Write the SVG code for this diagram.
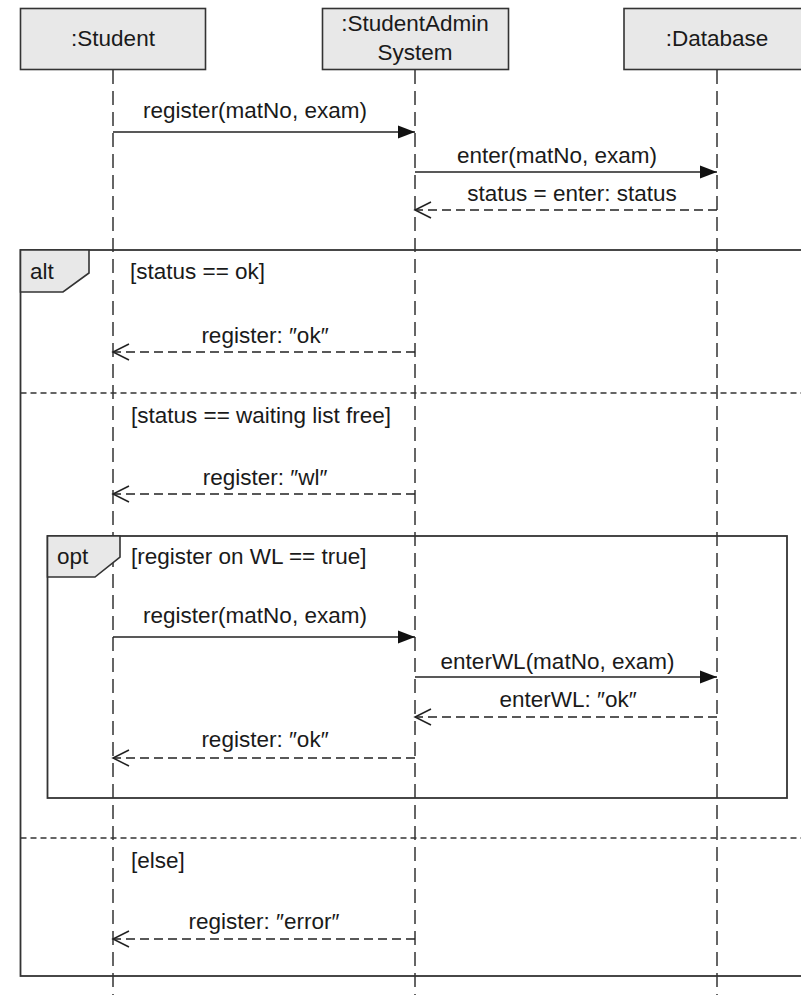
<svg xmlns="http://www.w3.org/2000/svg" width="801" height="995" viewBox="0 0 801 995">
<defs>
<style>
text{font-family:"Liberation Sans",Arial,sans-serif;font-size:22.5px;fill:#1a1a1a}
.mid{text-anchor:middle}
.box{fill:#e8e8e8;stroke:#333;stroke-width:1.6}
.frame{fill:none;stroke:#333;stroke-width:1.8}
.sep{stroke:#333;stroke-width:1.5;stroke-dasharray:6 4}
.life{stroke:#333;stroke-width:1.5;stroke-dasharray:14 7}
.call{stroke:#222;stroke-width:1.5;fill:none}
.ret{stroke:#222;stroke-width:1.5;fill:none;stroke-dasharray:9 5}
.tag{fill:#e8e8e8;stroke:#333;stroke-width:1.6}
</style>
<marker id="filled" markerWidth="18" markerHeight="14" refX="17" refY="7" orient="auto" markerUnits="userSpaceOnUse">
<path d="M0,0.5 L17,7 L0,13.5 Z" fill="#111"/>
</marker>
<marker id="open" markerWidth="19" markerHeight="18" refX="17" refY="9" orient="auto" markerUnits="userSpaceOnUse">
<path d="M1,1 L17,9 L1,17" fill="none" stroke="#222" stroke-width="1.5"/>
</marker>
</defs>
<rect width="801" height="995" fill="#fff"/>

<g id="frames">
<rect id="alt-frame" class="frame" x="20.5" y="250" width="790" height="726"/>
<line class="sep" x1="20.5" y1="393" x2="801" y2="393"/>
<line class="sep" x1="20.5" y1="838" x2="801" y2="838"/>
<rect id="opt-frame" class="frame" x="47.5" y="536" width="739.5" height="262"/>
</g>

<g id="lifelines">
<line class="life" x1="113" y1="70" x2="113" y2="995"/>
<line class="life" x1="415" y1="70" x2="415" y2="995"/>
<line class="life" x1="717" y1="70" x2="717" y2="995"/>
</g>

<g id="student">
<rect class="box" x="20.5" y="8.5" width="185" height="61"/>
<text class="mid" x="113" y="46">:Student</text>
</g>
<g id="system">
<rect class="box" x="322.5" y="8.5" width="186" height="61"/>
<text class="mid" x="415" y="31">:StudentAdmin</text>
<text class="mid" x="415" y="60">System</text>
</g>
<g id="database">
<rect class="box" x="624" y="8.5" width="190" height="61"/>
<text class="mid" x="717" y="46">:Database</text>
</g>

<g id="alt-tag">
<path class="tag" d="M20.5,250 L89,250 L89,273 L63,292 L20.5,292 Z"/>
<text x="30" y="279">alt</text>
</g>
<g id="opt-tag">
<path class="tag" d="M47.5,536 L120,536 L120,557 L95,577 L47.5,577 Z"/>
<text x="57" y="564">opt</text>
</g>

<g id="guards">
<text x="130" y="279">[status == ok]</text>
<text x="131" y="423">[status == waiting list free]</text>
<text x="131" y="564">[register on WL == true]</text>
<text x="131" y="868">[else]</text>
</g>

<g id="connectors">
<line class="call" x1="113" y1="132" x2="415" y2="132" marker-end="url(#filled)"/>
<text class="mid" x="255" y="118">register(matNo, exam)</text>

<line class="call" x1="415" y1="172" x2="717" y2="172" marker-end="url(#filled)"/>
<text class="mid" x="557" y="163">enter(matNo, exam)</text>

<line class="ret" x1="717" y1="210" x2="415" y2="210" marker-end="url(#open)"/>
<text class="mid" x="572" y="201">status = enter: status</text>

<line class="ret" x1="415" y1="352" x2="113" y2="352" marker-end="url(#open)"/>
<text class="mid" x="265" y="343">register: ″ok″</text>

<line class="ret" x1="415" y1="494" x2="113" y2="494" marker-end="url(#open)"/>
<text class="mid" x="265" y="485">register: ″wl″</text>

<line class="call" x1="113" y1="637" x2="415" y2="637" marker-end="url(#filled)"/>
<text class="mid" x="255" y="623">register(matNo, exam)</text>

<line class="call" x1="415" y1="677" x2="717" y2="677" marker-end="url(#filled)"/>
<text class="mid" x="557.5" y="669">enterWL(matNo, exam)</text>

<line class="ret" x1="717" y1="717" x2="415" y2="717" marker-end="url(#open)"/>
<text class="mid" x="568" y="707">enterWL: ″ok″</text>

<line class="ret" x1="415" y1="758" x2="113" y2="758" marker-end="url(#open)"/>
<text class="mid" x="265" y="747">register: ″ok″</text>

<line class="ret" x1="415" y1="939" x2="113" y2="939" marker-end="url(#open)"/>
<text class="mid" x="264" y="929">register: ″error″</text>
</g>
</svg>
